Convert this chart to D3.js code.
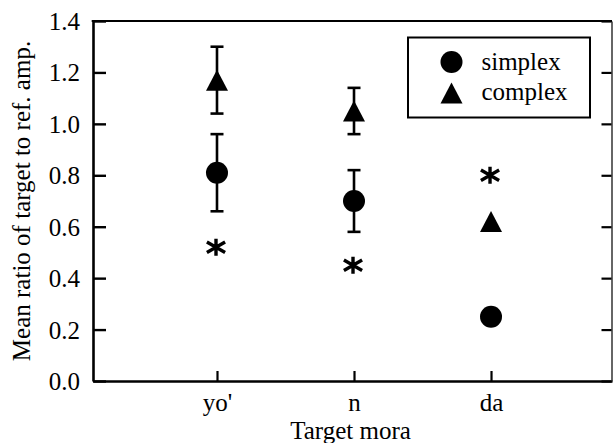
<!DOCTYPE html>
<html><head><meta charset="utf-8">
<script src="https://cdn.jsdelivr.net/npm/d3@7"></script>
<style>
body{margin:0;background:#fff;}
svg{display:block;}
svg text{font-family:'Liberation Serif',serif !important;fill:#000;}
</style></head><body>
<svg id="chart" width="613" height="443" font-family="Liberation Serif, serif"></svg>
<script>
// Mean amplitude ratios per target mora, with standard-error half widths
const categories = ["yo'", "n", "da"];
const simplexMean = [0.81, 0.70, 0.25];
const simplexErr = [0.15, 0.12, null];
const complexMean = [1.17, 1.05, 0.62];
const complexErr = [0.13, 0.09, null];
// significance markers (asterisks) per mora
const starValues = [0.52, 0.45, 0.80];
const yTicks = [0.0, 0.2, 0.4, 0.6, 0.8, 1.0, 1.2, 1.4];
const seriesNames = ["simplex", "complex"];
const xTitle = "Target mora";
const yTitle = "Mean ratio of target to ref. amp.";

const svg = d3.select("#chart");
const L = 93, R = 612, T = 21, B = 381;
const FS = 25;
const SERIF = "Liberation Serif, serif";

const x = d3.scaleLinear().domain([-0.905, 2.883]).range([L, R]);
const y = d3.scaleLinear().domain([0, 1.4]).range([B, T]);

// axes: ticks point inward
const gLeft = svg.append("g").attr("transform", `translate(${L},0)`)
  .call(d3.axisLeft(y).tickValues(yTicks).tickFormat(d3.format(".1f"))
    .tickSizeInner(-13).tickSizeOuter(0).tickPadding(13));
const gBottom = svg.append("g").attr("transform", `translate(0,${B})`)
  .call(d3.axisBottom(x).tickValues(d3.range(categories.length))
    .tickFormat(i => categories[i]).tickSizeInner(-10).tickSizeOuter(0).tickPadding(12));
const gRight = svg.append("g").attr("transform", `translate(${R - 0.5},0)`)
  .call(d3.axisRight(y).tickValues(yTicks).tickFormat("")
    .tickSizeInner(-10).tickSizeOuter(0));

[gLeft, gBottom, gRight].forEach(g => {
  g.attr("font-family", SERIF).attr("font-size", FS);
  g.selectAll("text").attr("font-family", SERIF).attr("font-size", FS).attr("fill", "#000");
});
gLeft.selectAll("text").attr("dy", "0.34em");
gLeft.select(".domain").attr("stroke-width", 2.6);
gLeft.selectAll(".tick line").attr("stroke-width", 2.4);
gBottom.select(".domain").attr("stroke-width", 2.6);
gBottom.selectAll(".tick line").attr("stroke-width", 2.2);
gRight.select(".domain").attr("stroke-width", 1.5).attr("stroke", "#333");
gRight.selectAll(".tick line").attr("stroke-width", 2.2);

// top frame line
svg.append("line").attr("x1", L - 1.3).attr("x2", R).attr("y1", T).attr("y2", T)
  .attr("stroke", "#000").attr("stroke-width", 2.2);

// titles
svg.append("text").attr("x", (L + R) / 2 - 2).attr("y", 439)
  .attr("text-anchor", "middle").attr("font-size", FS).text(xTitle);
svg.append("text").attr("transform", `translate(30,${(T + B) / 2}) rotate(-90)`)
  .attr("text-anchor", "middle").attr("font-size", FS).text(yTitle);

// marker helpers
const triPath = (cx, cy, w = 22, h = 21) =>
  `M${cx},${cy - h / 2}L${cx + w / 2},${cy + h / 2}L${cx - w / 2},${cy + h / 2}Z`;
const asteriskType = {
  draw(ctx, size) {
    const v = 8.5, d = 10.5;
    const c = Math.cos(Math.PI / 6) * d, s = Math.sin(Math.PI / 6) * d;
    ctx.moveTo(0, -v); ctx.lineTo(0, v);
    ctx.moveTo(-c, -s); ctx.lineTo(c, s);
    ctx.moveTo(-c, s); ctx.lineTo(c, -s);
  }
};

const plot = svg.append("g");
const capW = 13;

function errorBars(means, errs) {
  means.forEach((m, i) => {
    const e = errs[i];
    if (e == null) return;
    const cx = x(i), y1 = y(m + e), y2 = y(m - e);
    plot.append("line").attr("x1", cx).attr("x2", cx).attr("y1", y1).attr("y2", y2)
      .attr("stroke", "#000").attr("stroke-width", 2.6);
    [y1, y2].forEach(yy => plot.append("line")
      .attr("x1", cx - capW / 2).attr("x2", cx + capW / 2).attr("y1", yy).attr("y2", yy)
      .attr("stroke", "#000").attr("stroke-width", 2.6));
  });
}
errorBars(simplexMean, simplexErr);
errorBars(complexMean, complexErr);

plot.selectAll("circle.simplex").data(simplexMean).join("circle")
  .attr("class", "simplex").attr("cx", (d, i) => x(i)).attr("cy", d => y(d))
  .attr("r", 11).attr("fill", "#000");
plot.selectAll("path.complex").data(complexMean).join("path")
  .attr("class", "complex").attr("d", (d, i) => triPath(x(i), y(d))).attr("fill", "#000");
plot.selectAll("path.star").data(starValues).join("path")
  .attr("class", "star")
  .attr("transform", (d, i) => `translate(${x(i) - 1},${y(d)})`)
  .attr("d", d3.symbol(asteriskType, 64)())
  .attr("fill", "none").attr("stroke", "#000").attr("stroke-width", 3.4);

// legend
const lg = svg.append("g");
lg.append("rect").attr("x", 408).attr("y", 37.5).attr("width", 182).attr("height", 80)
  .attr("fill", "#fff").attr("stroke", "#000").attr("stroke-width", 2);
const lgY = [62, 92];
lg.append("circle").attr("cx", 451.5).attr("cy", lgY[0]).attr("r", 11).attr("fill", "#000");
lg.append("path").attr("d", triPath(451.5, lgY[1] + 1)).attr("fill", "#000");
seriesNames.forEach((n, i) => {
  lg.append("text").attr("x", 481.5).attr("y", lgY[i] + 8).attr("font-size", FS).text(n);
});
</script>
</body></html>
